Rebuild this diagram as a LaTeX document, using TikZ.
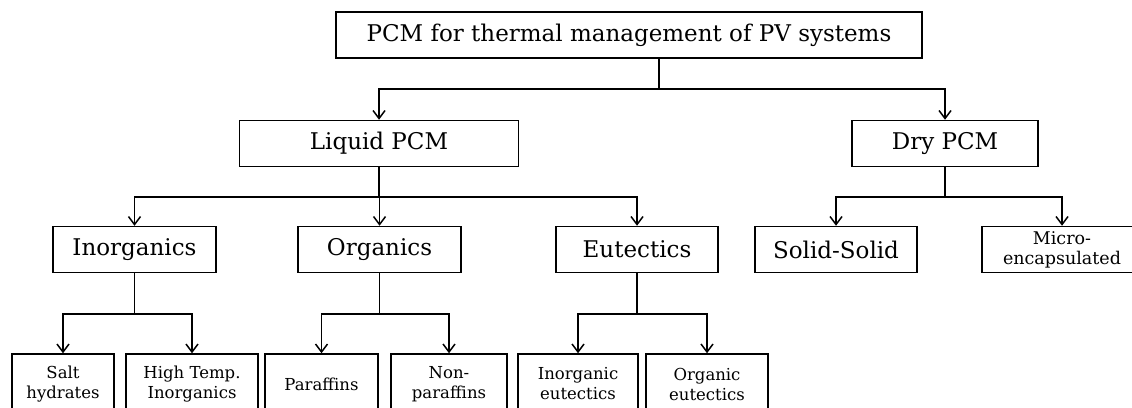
\documentclass[tikz,border=0pt]{standalone}
\usepackage{fontspec}
\setmainfont{DejaVu Serif}
\usetikzlibrary{arrows.meta}

\begin{document}
\begin{tikzpicture}[x=1pt, y=-1pt, line width=1.5pt,
>={Straight Barb[length=8pt, width=12pt]},
box/.style={draw, inner sep=0pt, minimum height=46pt, font=\fontsize{23}{27}\selectfont},
leaf/.style={draw, inner sep=0pt, minimum height=60pt, align=center, font=\fontsize{16.5}{20}\selectfont}
]
    \useasboundingbox (0,0) rectangle (1132,407);
    \clip (0,0) rectangle (1132,407);

    % Root
    \node[box, minimum width=586pt] (root) at (629,35) {PCM for thermal management of PV systems};

    % Main classes
    \node[box, minimum width=279pt] (liquid) at (379,143.5) {Liquid PCM};
    \node[box, minimum width=186pt] (dry) at (945,143.5) {Dry PCM};

    % Sub classes
    \node[box, minimum width=163pt] (inorg) at (134.5,249.5) {Inorganics};
    \node[box, minimum width=163pt] (org) at (379.5,249.5) {Organics};
    \node[box, minimum width=162pt] (eut) at (637,249.5) {Eutectics};
    \node[box, minimum width=162pt] (solid) at (836,249.5) {Solid-Solid};
    \node[box, minimum width=160pt, align=center, font=\fontsize{17.5}{20}\selectfont] (micro) at (1062,249.5) {Micro-\\encapsulated};

    % Leaves
    \node[leaf, minimum width=102pt] (salt) at (63,384) {Salt\\hydrates};
    \node[leaf, minimum width=132pt] (hightemp) at (192,384) {High Temp.\\Inorganics};
    \node[leaf, minimum width=113pt] (paraf) at (321.5,384) {Paraffins};
    \node[leaf, minimum width=116pt] (nonparaf) at (449,384) {Non-\\paraffins};
    \node[leaf, minimum width=120pt] (inorgeut) at (578,384) {Inorganic\\eutectics};
    \node[leaf, minimum width=122pt] (orgeut) at (707,384) {Organic\\eutectics};

    % Junctions
    \coordinate (j0) at (659,89);
    \coordinate (j1) at (379,197);
    \coordinate (j2) at (945,197);
    \coordinate (j3) at (134.5,314);
    \coordinate (j4) at (379.5,314);
    \coordinate (j5) at (637,314);

    % Connectors
    \draw (root.south -| j0) -- (j0);
    \foreach \n in {liquid, dry}
        \draw[->] (j0) -| (\n.north);

    \draw (liquid.south) -- (j1);
    \foreach \n in {inorg, org, eut}
        \draw[->] (j1) -| (\n.north);

    \draw (dry.south) -- (j2);
    \foreach \n in {solid, micro}
        \draw[->] (j2) -| (\n.north);

    \draw (inorg.south) -- (j3);
    \foreach \n in {salt, hightemp}
        \draw[->] (j3) -| (\n.north);

    \draw (org.south) -- (j4);
    \foreach \n in {paraf, nonparaf}
        \draw[->] (j4) -| (\n.north);

    \draw (eut.south) -- (j5);
    \foreach \n in {inorgeut, orgeut}
        \draw[->] (j5) -| (\n.north);

\end{tikzpicture}
\end{document}
